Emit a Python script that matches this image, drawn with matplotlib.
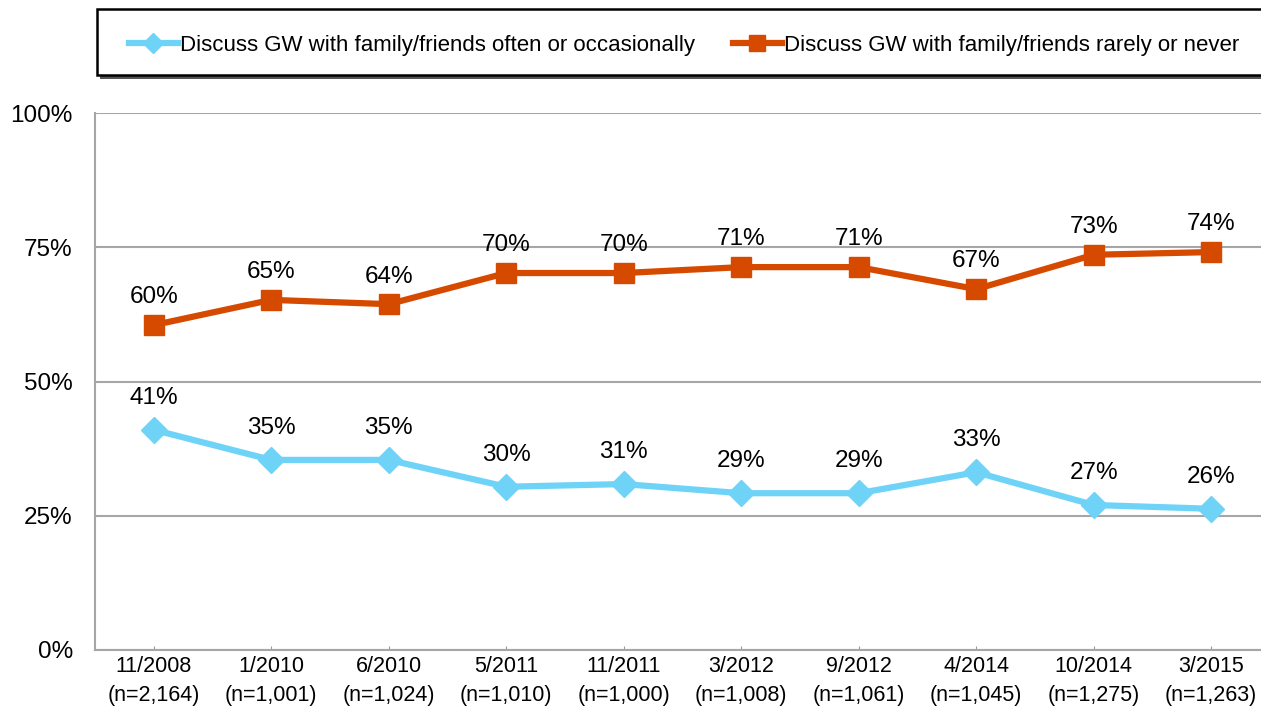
import matplotlib.pyplot as plt
from matplotlib.patches import Rectangle

# survey waves and sample sizes
waves = ["11/2008", "1/2010", "6/2010", "5/2011", "11/2011",
         "3/2012", "9/2012", "4/2014", "10/2014", "3/2015"]
sizes = ["2,164", "1,001", "1,024", "1,010", "1,000",
         "1,008", "1,061", "1,045", "1,275", "1,263"]

# percentages (unrounded estimates, and the printed labels)
often = [41.0, 35.4, 35.4, 30.4, 30.9, 29.2, 29.2, 33.1, 27.0, 26.3]
often_lbl = [41, 35, 35, 30, 31, 29, 29, 33, 27, 26]
rarely = [60.5, 65.2, 64.4, 70.2, 70.2, 71.3, 71.3, 67.2, 73.6, 74.1]
rarely_lbl = [60, 65, 64, 70, 70, 71, 71, 67, 73, 74]

plt.rcParams['font.family'] = ['Liberation Sans', 'DejaVu Sans']

W, H = 1261, 715
fig = plt.figure(figsize=(W / 100, H / 100), dpi=100)
ax = fig.add_axes([95 / W, 1 - 650 / H, (1270 - 95) / W, (650 - 113) / H])

x = list(range(len(waves)))
blue = "#6fd3f8"
orange = "#d64a00"

l1, = ax.plot(x, often, color=blue, lw=4.5, marker="D", ms=13,
              label="Discuss GW with family/friends often or occasionally", zorder=3)
l2, = ax.plot(x, rarely, color=orange, lw=4.5, marker="s", ms=15,
              label="Discuss GW with family/friends rarely or never", zorder=3)

for xi, v, t in zip(x, often, often_lbl):
    ax.annotate(f"{t}%", (xi, v), xytext=(0, 15), textcoords="offset points",
                ha="center", va="bottom", fontsize=17.5)
for xi, v, t in zip(x, rarely, rarely_lbl):
    ax.annotate(f"{t}%", (xi, v), xytext=(0, 12), textcoords="offset points",
                ha="center", va="bottom", fontsize=17.5)

ax.set_xlim(-0.5, len(waves) - 0.5)
ax.set_ylim(0, 100)
ax.set_yticks([0, 25, 50, 75, 100])
ax.set_yticklabels(["0%", "25%", "50%", "75%", "100%"], fontsize=17.5)
ax.set_xticks(x)
ax.set_xticklabels([f"{w}\n(n={n})" for w, n in zip(waves, sizes)], fontsize=15.5,
                   linespacing=1.5)
ax.tick_params(axis="y", length=0, pad=16)
ax.tick_params(axis="x", direction="in", length=3, color="#999999", pad=4)
ax.yaxis.grid(True, color="#a6a6a6", lw=1.5)
ax.set_axisbelow(True)
for s in ["top", "right"]:
    ax.spines[s].set_visible(False)
for s in ["left", "bottom"]:
    ax.spines[s].set_color("#a6a6a6")
    ax.spines[s].set_linewidth(1.5)

# legend box with a drop shadow
fig.patches.append(Rectangle((100 / W, 1 - 79 / H), 1180 / W, 66 / H,
                             transform=fig.transFigure, facecolor="#555555",
                             edgecolor="none", zorder=0))
fig.patches.append(Rectangle((97 / W, 1 - 75 / H), 1180 / W, 66 / H,
                             transform=fig.transFigure, facecolor="white",
                             edgecolor="black", lw=1.8, zorder=1))
leg = fig.legend(handles=[l1, l2], loc="center", ncol=2,
                 bbox_to_anchor=(684 / W, 1 - 45 / H),
                 frameon=False, handlelength=2.2,
                 handletextpad=0.1, columnspacing=1.7, markerscale=0.75,
                 prop={"family": "Liberation Sans", "size": 16})

fig.savefig("out.png", dpi=100)
